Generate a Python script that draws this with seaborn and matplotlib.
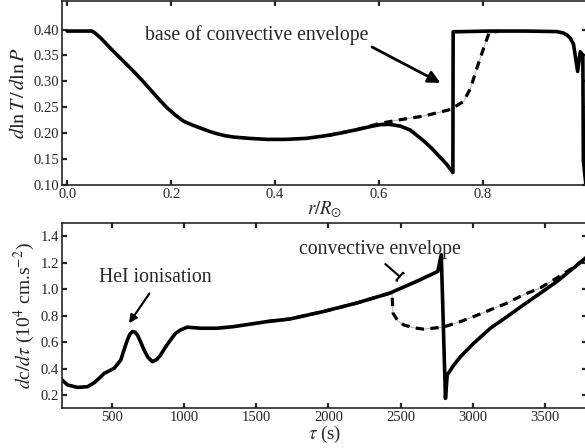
import numpy as np
import pandas as pd
import seaborn as sns
import matplotlib.pyplot as plt

sns.set_style("ticks")
plt.rcParams['font.family'] = ['Liberation Serif', 'DejaVu Serif']
plt.rcParams['mathtext.fontset'] = 'stix'

# top panel: temperature gradient vs radius
r_solid = [0.0, 0.048, 0.055, 0.065, 0.083, 0.105, 0.128, 0.144, 0.160, 0.176, 0.192, 0.208,
           0.224, 0.240, 0.256, 0.272, 0.288, 0.304, 0.320, 0.350, 0.385, 0.420, 0.460,
           0.493, 0.525, 0.558, 0.580, 0.602, 0.620, 0.641, 0.660, 0.686, 0.700, 0.718,
           0.730, 0.742, 0.7425, 0.814, 0.880, 0.942, 0.955, 0.962, 0.968, 0.974, 0.982,
           0.987, 0.992, 0.993, 0.999]
grad_solid = [0.397, 0.397, 0.392, 0.383, 0.364, 0.342, 0.319, 0.302, 0.284, 0.266, 0.249,
              0.235, 0.223, 0.216, 0.210, 0.204, 0.199, 0.195, 0.1925, 0.190, 0.188, 0.188,
              0.190, 0.1945, 0.200, 0.207, 0.212, 0.2165, 0.217, 0.2136, 0.206, 0.185, 0.172,
              0.153, 0.140, 0.124, 0.3956, 0.397, 0.397, 0.396, 0.393, 0.389, 0.383, 0.372,
              0.319, 0.357, 0.351, 0.147, 0.09]
r_dash = [0.50, 0.558, 0.602, 0.641, 0.686, 0.737, 0.763, 0.776, 0.788, 0.801, 0.811, 0.83]
grad_dash = [0.195, 0.207, 0.219, 0.226, 0.233, 0.2456, 0.2615, 0.287, 0.325, 0.3636, 0.392, 0.397]

# bottom panel: sound speed derivative vs acoustic depth
tau_solid = [155, 194, 263, 332, 380, 424, 447, 493, 516, 562, 590, 608, 625, 643, 660, 677,
             700, 723, 750, 781, 810, 838, 870, 907, 940, 976, 1022, 1114, 1229, 1343, 1574,
             1734, 1964, 2194, 2424, 2608, 2757, 2781, 2810, 2822, 2868, 2914, 3006, 3121,
             3237, 3351, 3467, 3582, 3697, 3790]
dc_solid = [0.314, 0.276, 0.258, 0.263, 0.295, 0.339, 0.364, 0.389, 0.402, 0.465, 0.560,
            0.617, 0.660, 0.680, 0.676, 0.655, 0.600, 0.541, 0.485, 0.452, 0.468, 0.503,
            0.560, 0.617, 0.665, 0.692, 0.713, 0.705, 0.705, 0.717, 0.755, 0.775, 0.831,
            0.895, 0.970, 1.058, 1.134, 1.26, 0.175, 0.352, 0.427, 0.490, 0.592, 0.705,
            0.793, 0.882, 0.970, 1.058, 1.160, 1.245]
tau_dash = [1574, 1734, 1964, 2194, 2424, 2440, 2447, 2480, 2521, 2590, 2660, 2792, 2914,
            3006, 3121, 3237, 3351, 3467, 3582, 3697, 3790]
dc_dash = [0.755, 0.775, 0.831, 0.895, 0.970, 0.96, 0.82, 0.76, 0.730, 0.708, 0.698, 0.713,
           0.755, 0.793, 0.844, 0.895, 0.958, 1.01, 1.085, 1.165, 1.24]

top_s = pd.DataFrame({"r": r_solid, "g": grad_solid})
top_d = pd.DataFrame({"r": r_dash, "g": grad_dash})
bot_s = pd.DataFrame({"tau": tau_solid, "dc": dc_solid})
bot_d = pd.DataFrame({"tau": tau_dash, "dc": dc_dash})

fig = plt.figure(figsize=(5.85, 4.48), dpi=100)
ax1 = fig.add_axes([62/585, 263/448, 525/585, 184/448])
ax2 = fig.add_axes([62/585, 39.7/448, 525/585, 185.3/448])

for ax, ds, dd, x, y in [(ax1, top_s, top_d, "r", "g"), (ax2, bot_s, bot_d, "tau", "dc")]:
    sns.lineplot(data=dd, x=x, y=y, ax=ax, color="#b0b0b0", lw=0.7, sort=False, estimator=None)
    sns.lineplot(data=dd, x=x, y=y, ax=ax, color="black", lw=2.3, sort=False, estimator=None,
                 dashes=False, linestyle=(0, (2.6, 2.0)))
    sns.lineplot(data=ds, x=x, y=y, ax=ax, color="black", lw=2.6, sort=False, estimator=None)
    for s in ax.spines.values():
        s.set_linewidth(1.2)
    ax.tick_params(direction="in", top=True, right=True, length=3.5, width=1.6,
                   labelsize=10.5, pad=2)

ax1.set_xlim(-0.01, 1.0)
ax1.set_ylim(0.10, 0.455)
ax1.set_xticks([0.0, 0.2, 0.4, 0.6, 0.8])
ax1.set_yticks([0.10, 0.15, 0.20, 0.25, 0.30, 0.35, 0.40])
ax1.set_yticklabels(["0.10", "0.15", "0.20", "0.25", "0.30", "0.35", "0.40"])
ax1.set_xlabel(r"$r/R_{\odot}$", fontsize=13.5, labelpad=-1)
ax1.set_ylabel(r"$d\ln T\,/\,d\ln P$", fontsize=14.5, labelpad=3)

ax2.set_xlim(155, 3790)
ax2.set_ylim(0.10, 1.50)
ax2.set_xticks([500, 1000, 1500, 2000, 2500, 3000, 3500])
ax2.set_yticks([0.2, 0.4, 0.6, 0.8, 1.0, 1.2, 1.4])
ax2.set_xlabel(r"$\tau$ (s)", fontsize=13.5, labelpad=0)
ax2.set_ylabel(r"$d$c$/d\tau$ (10$^4$ cm.s$^{-2}$)", fontsize=14, labelpad=3)

ax1.annotate("base of convective envelope", xy=(0.718, 0.297), xytext=(0.580, 0.390),
             fontsize=14.2, ha="right", va="center",
             arrowprops=dict(arrowstyle="-|>", color="black", lw=2, mutation_scale=18,
                             shrinkA=0, shrinkB=0, relpos=(0.995, 0.0)))
ax2.annotate("HeI ionisation", xy=(619, 0.743), xytext=(410, 1.09),
             fontsize=14.2, ha="left", va="center",
             arrowprops=dict(arrowstyle="-|>", color="black", lw=1.5, mutation_scale=12,
                             shrinkA=3, shrinkB=0, relpos=(0.49, 0.0)))
ax2.annotate("convective envelope", xy=(2493, 1.096), xytext=(2353, 1.30),
             fontsize=14.2, ha="center", va="center",
             arrowprops=dict(arrowstyle="-[, widthB=0.25, lengthB=0.05", color="black",
                             lw=1.5, shrinkA=2, shrinkB=0, relpos=(0.5, 0.0)))

fig.savefig("out.png", dpi=100)
